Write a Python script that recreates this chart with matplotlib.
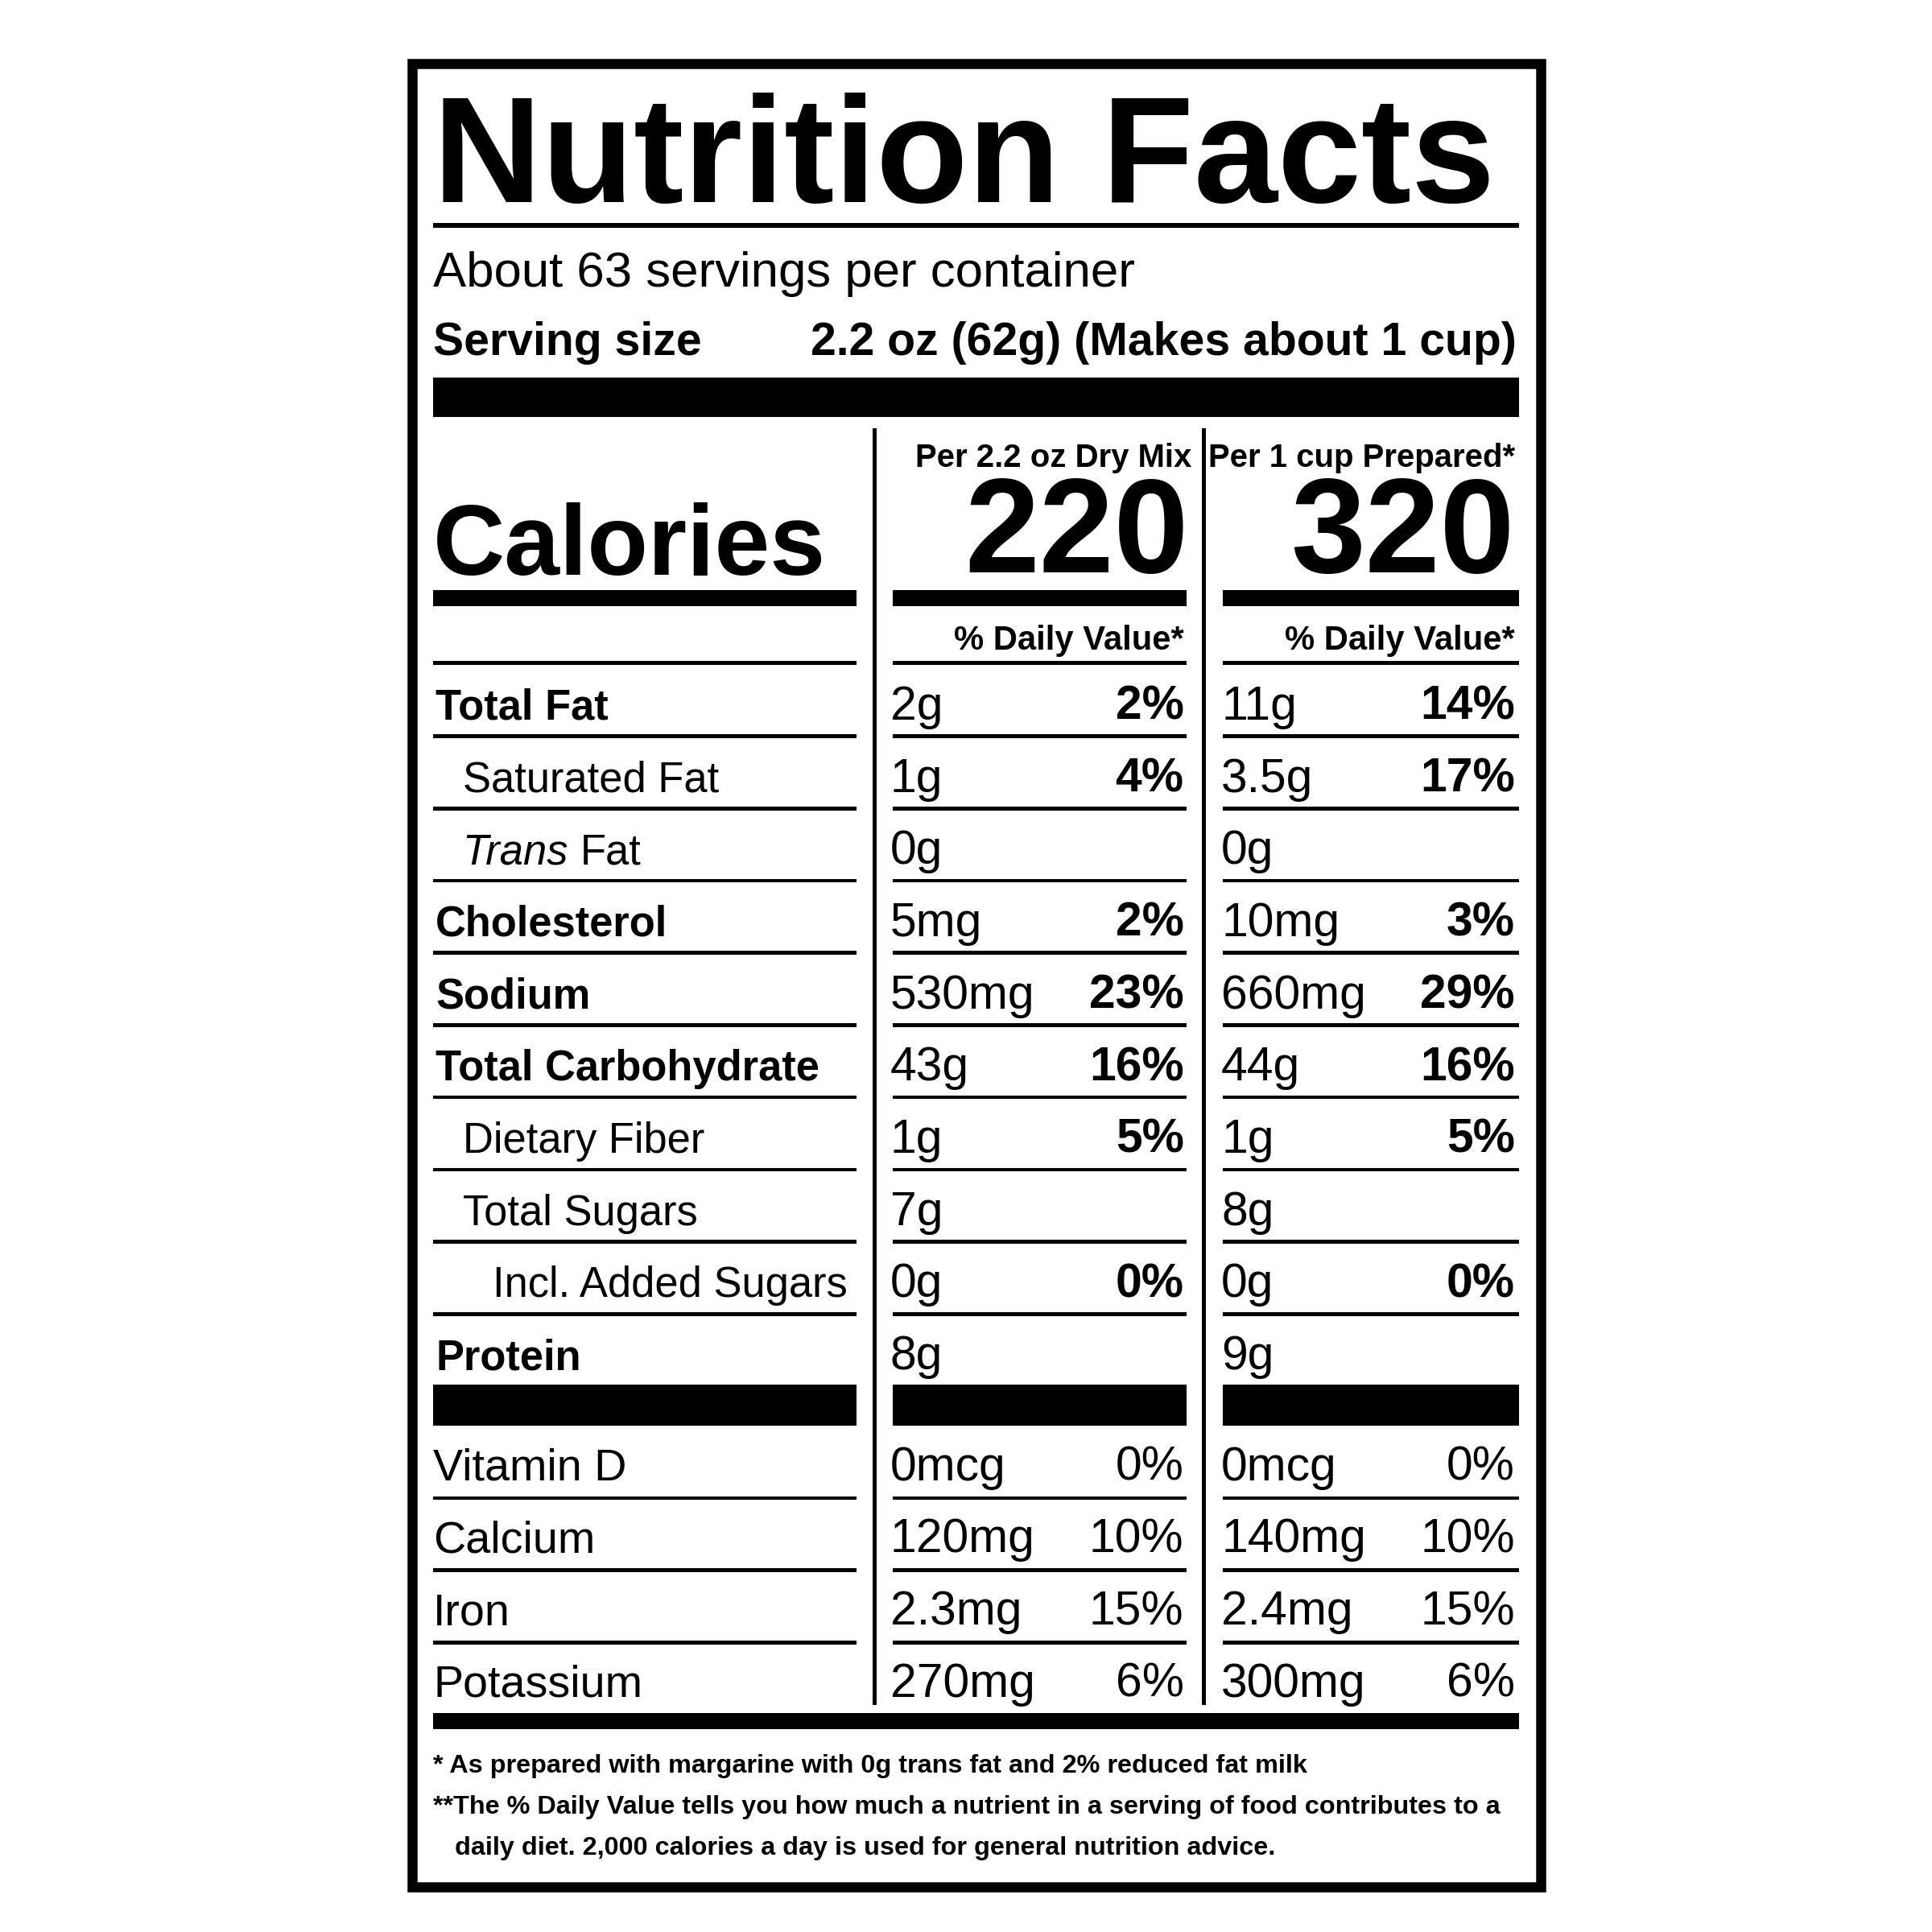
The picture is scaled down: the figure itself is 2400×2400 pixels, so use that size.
import matplotlib.pyplot as plt
from matplotlib.patches import Rectangle

plt.rcParams['font.family'] = ['Liberation Sans', 'DejaVu Sans']

# label data
servings = "About 63 servings per container"
serving_size = "2.2 oz (62g) (Makes about 1 cup)"
col_heads = ["Per 2.2 oz Dry Mix", "Per 1 cup Prepared*"]
calories = ["220", "320"]

nutrients = ["Total Fat", "Saturated Fat", "Trans Fat", "Cholesterol", "Sodium",
             "Total Carbohydrate", "Dietary Fiber", "Total Sugars", "Incl. Added Sugars", "Protein"]
indent = [0, 1, 1, 0, 0, 0, 1, 1, 2, 0]
bold_name = [1, 0, 0, 1, 1, 1, 0, 0, 0, 1]
dry_amt = ["2g", "1g", "0g", "5mg", "530mg", "43g", "1g", "7g", "0g", "8g"]
dry_pct = ["2%", "4%", "", "2%", "23%", "16%", "5%", "", "0%", ""]
prep_amt = ["11g", "3.5g", "0g", "10mg", "660mg", "44g", "1g", "8g", "0g", "9g"]
prep_pct = ["14%", "17%", "", "3%", "29%", "16%", "5%", "", "0%", ""]

vitamins = ["Vitamin D", "Calcium", "Iron", "Potassium"]
vit_dry_amt = ["0mcg", "120mg", "2.3mg", "270mg"]
vit_dry_pct = ["0%", "10%", "15%", "6%"]
vit_prep_amt = ["0mcg", "140mg", "2.4mg", "300mg"]
vit_prep_pct = ["0%", "10%", "15%", "6%"]

footnotes = ["* As prepared with margarine with 0g trans fat and 2% reduced fat milk",
             "**The % Daily Value tells you how much a nutrient in a serving of food contributes to a",
             "   daily diet. 2,000 calories a day is used for general nutrition advice."]

fig = plt.figure(figsize=(8, 8), dpi=300)
ax = fig.add_axes([0, 0, 1, 1])
ax.set_xlim(0, 1552)
ax.set_ylim(1552, 0)
ax.axis('off')

K = 0.371  # points per unit
NAME = 34
VAL = 38


def txt(x, y, s, em, ha='left', weight='normal', style='normal'):
    return ax.text(x, y, s, fontsize=em * K, ha=ha, va='baseline', fontweight=weight,
                   fontstyle=style, color='black')


def bar(x0, x1, y0, y1):
    ax.add_patch(Rectangle((x0, y0), x1 - x0, y1 - y0, color='black', lw=0))


ax.add_patch(Rectangle((331, 51), 907, 1465, fill=False, ec='black', lw=3))
cols = [(348, 688), (717, 953), (982, 1220)]

txt(348, 162, "Nutrition Facts", 121, weight='heavy')
bar(348, 1220, 179, 183)
txt(348, 230, servings, 40)
txt(348, 285, "Serving size", 37, weight='bold')
txt(1218, 285, serving_size, 37, ha='right', weight='bold')
bar(348, 1220, 303, 335)

ax.plot([702, 702], [345, 1368], color='black', lw=1.2)
ax.plot([967, 967], [345, 1368], color='black', lw=1.2)

txt(957, 375, col_heads[0], 26, ha='right', weight='bold')
txt(1217, 375, col_heads[1], 26, ha='right', weight='bold')
txt(955, 460, calories[0], 108, ha='right', weight='heavy')
txt(1217, 460, calories[1], 108, ha='right', weight='heavy')
txt(348, 462, "Calories", 80, weight='heavy')
for x0, x1 in cols:
    bar(x0, x1, 474, 487)
    bar(x0, x1, 531, 534)
txt(951, 522, "% Daily Value*", 27, ha='right', weight='bold')
txt(1217, 522, "% Daily Value*", 27, ha='right', weight='bold')

renderer = fig.canvas.get_renderer()
for i, name in enumerate(nutrients):
    y = 578 + 58 * i
    x = 350 + 22 * indent[i] + (2 if indent[i] == 2 else 0)
    w = 'bold' if bold_name[i] else 'normal'
    if name == "Trans Fat":
        t = txt(x, y, "Trans ", NAME, style='italic')
        bb = t.get_window_extent(renderer=renderer)
        x_end = ax.transData.inverted().transform((bb.x1, bb.y0))[0]
        txt(x_end, y, "Fat", NAME)
    else:
        txt(x, y, name, NAME, weight=w)
    txt(715, y, dry_amt[i], VAL)
    txt(951, y, dry_pct[i], VAL, ha='right', weight='bold')
    txt(981, y, prep_amt[i], VAL)
    txt(1217, y, prep_pct[i], VAL, ha='right', weight='bold')
    if i < len(nutrients) - 1:
        for x0, x1 in cols:
            bar(x0, x1, y + 12, y + 15)
for x0, x1 in cols:
    bar(x0, x1, 1112, 1145)

for i, name in enumerate(vitamins):
    y = 1189 + 58 * i
    txt(348, y, name, NAME + 2)
    txt(715, y, vit_dry_amt[i], VAL)
    txt(951, y, vit_dry_pct[i], VAL, ha='right')
    txt(981, y, vit_prep_amt[i], VAL)
    txt(1217, y, vit_prep_pct[i], VAL, ha='right')
    if i < len(vitamins) - 1:
        for x0, x1 in cols:
            bar(x0, x1, y + 13, y + 16)
bar(348, 1220, 1376, 1389)

for i, f in enumerate(footnotes):
    txt(348, 1424 + 33 * i, f, 21, weight='bold')

fig.savefig("out.png", dpi=300, facecolor='white')
